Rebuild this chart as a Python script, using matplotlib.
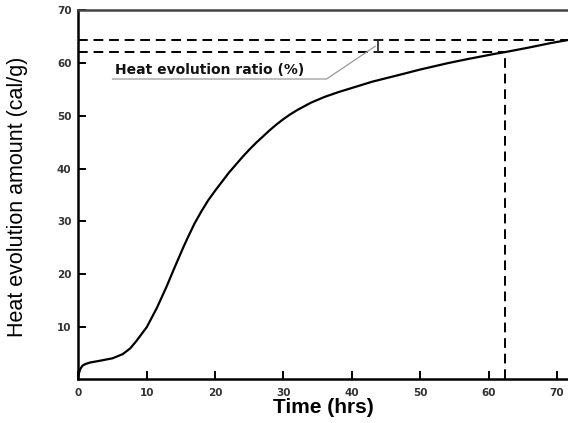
import matplotlib
matplotlib.use("Agg")
import matplotlib.pyplot as plt

time_hrs = [0, 0.1, 0.3, 0.6, 1.0, 1.7, 3.0, 5.0, 6.5, 7.6, 8.5, 10.0, 11.5, 12.9, 14.0,
            15.4, 16.0, 17.0, 18.0, 19.0, 20.0, 22.0, 24.0, 25.0, 26.0, 27.0, 28.0, 29.0,
            30.0, 31.0, 32.0, 34.0, 36.0, 38.0, 40.0, 43.0, 47.0, 50.0, 54.0, 57.0, 61.0,
            62.4, 66.0, 69.0, 71.6]
heat = [0.4, 1.2, 2.0, 2.6, 2.9, 3.2, 3.5, 4.0, 4.8, 5.9, 7.3, 9.9, 13.6, 17.6, 21.0,
        25.2, 26.9, 29.6, 31.9, 34.0, 35.8, 39.2, 42.2, 43.6, 44.9, 46.1, 47.3, 48.4,
        49.4, 50.3, 51.1, 52.5, 53.6, 54.5, 55.3, 56.5, 57.8, 58.8, 60.0, 60.8, 61.8,
        62.1, 63.0, 63.8, 64.4]

x_ticks = [0, 10, 20, 30, 40, 50, 60, 70]
y_ticks = [10, 20, 30, 40, 50, 60, 70]

upper_level = 64.4
lower_level = 62.1
t_mark = 62.4
bar_x = 43.8
label_text = "Heat evolution ratio (%)"

fig = plt.figure(figsize=(5.68, 4.23), dpi=100)
ax = fig.add_axes([0.1379, 0.1031, 0.8621, 0.8721])

ax.plot(time_hrs, heat, color="black", lw=1.6, solid_capstyle="round",
        solid_joinstyle="round")

dash = (0, (5, 3))
ax.plot([0, 71.6], [upper_level, upper_level], color="black", lw=1.4, linestyle=dash)
ax.plot([0, t_mark], [lower_level, lower_level], color="black", lw=1.4, linestyle=dash)
ax.plot([t_mark, t_mark], [0, lower_level], color="black", lw=1.4, linestyle=dash)

ax.errorbar([bar_x], [(upper_level + lower_level) / 2], yerr=[(upper_level - lower_level) / 2],
            color="#222222", lw=1.2, capsize=3, capthick=1.2, fmt="none")

ax.plot([5.0, 36.3, 43.4], [57.0, 57.0, 63.2], color="#999999", lw=0.9)
ax.text(5.3, 58.7, label_text, fontsize=10, fontweight="bold", family="DejaVu Sans",
        va="center", ha="left", color="#111111")

ax.set_xlim(0, 71.6)
ax.set_ylim(0, 70)
ax.set_xticks(x_ticks)
ax.set_yticks(y_ticks)
ax.set_xticklabels([str(v) for v in x_ticks], fontsize=7.5, fontweight="bold",
                   family="DejaVu Sans", color="#333333")
ax.set_yticklabels([str(v) for v in y_ticks], fontsize=7.5, fontweight="bold",
                   family="DejaVu Sans", color="#333333")
ax.tick_params(direction="in", length=6, width=1.4, pad=5)
ax.tick_params(axis="x", pad=6)

for s in ["left", "bottom"]:
    ax.spines[s].set_linewidth(1.8)
ax.spines["top"].set_linewidth(1.8)
ax.spines["top"].set_color("#444444")
ax.spines["right"].set_visible(False)

ax.set_xlabel("Time (hrs)", fontsize=15, fontweight="bold", family="Liberation Sans", labelpad=0)
ax.set_ylabel("Heat evolution amount (cal/g)", fontsize=15.5, family="Liberation Sans")
ax.yaxis.set_label_coords(-0.103, 0.496)

fig.savefig("out.png", dpi=100)
